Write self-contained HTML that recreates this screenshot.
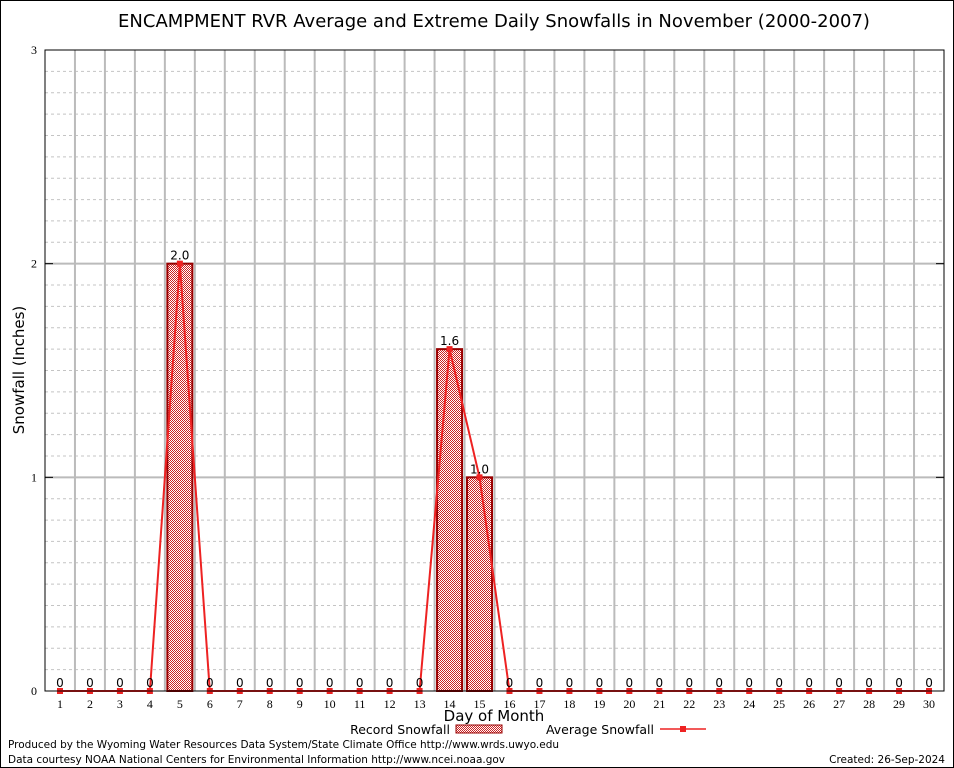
<!DOCTYPE html>
<html><head><meta charset="utf-8"><style>
body{margin:0;background:#fff;}
svg{display:block;font-family:"DejaVu Sans","Liberation Sans",sans-serif;}
</style></head><body>
<svg id="chart" width="954" height="768" viewBox="0 0 954 768" xmlns="http://www.w3.org/2000/svg">
<defs>
<pattern id="hatch" width="2" height="2" patternUnits="userSpaceOnUse">
<rect width="2" height="2" fill="#fff"/>
<rect x="0" y="0" width="1" height="1" fill="#c22"/>
<rect x="1" y="1" width="1" height="1" fill="#c22"/>
</pattern>
</defs>
<rect x="0.5" y="0.5" width="953" height="767" fill="#fff" stroke="#000"/>
<text x="494" y="27" font-size="18" text-anchor="middle">ENCAMPMENT RVR Average and Extreme Daily Snowfalls in November (2000-2007)</text>
<g id="grid"></g>
<g id="bars"></g>
<g id="line"></g>
<g id="labels"></g>
<rect x="45" y="50" width="899" height="641" fill="none" stroke="#000" stroke-width="1"/>
<g id="axes"></g>
<text x="24" y="370" font-size="15" text-anchor="middle" transform="rotate(-90 24 370)">Snowfall (Inches)</text>
<text x="494" y="721" font-size="15" text-anchor="middle">Day of Month</text>
<g>
<text x="450" y="734" font-size="12.5" text-anchor="end">Record Snowfall</text>
<rect x="456" y="725" width="46" height="8" fill="url(#hatch)" stroke="#900"/>
<text x="654" y="734" font-size="12.5" text-anchor="end">Average Snowfall</text>
<line x1="660" y1="729" x2="706" y2="729" stroke="#e22" stroke-width="1.5"/>
<rect x="680" y="726" width="6" height="6" fill="#e22"/>
</g>
<text x="8" y="748" font-size="10.5" textLength="551">Produced by the Wyoming Water Resources Data System/State Climate Office http://www.wrds.uwyo.edu</text>
<text x="8" y="763" font-size="10.5" textLength="497">Data courtesy NOAA National Centers for Environmental Information http://www.ncei.noaa.gov</text>
<text x="945" y="763" font-size="10.5" text-anchor="end">Created:  26-Sep-2024</text>
</svg>
<script>
const days = [1,2,3,4,5,6,7,8,9,10,11,12,13,14,15,16,17,18,19,20,21,22,23,24,25,26,27,28,29,30];
const recordValues = [0,0,0,0,2.0,0,0,0,0,0,0,0,0,1.6,1.0,0,0,0,0,0,0,0,0,0,0,0,0,0,0,0];
const averageValues = [0,0,0,0,2.0,0,0,0,0,0,0,0,0,1.6,1.0,0,0,0,0,0,0,0,0,0,0,0,0,0,0,0];
const yTicks = [0,1,2,3];

const NS = "http://www.w3.org/2000/svg";
const L=45,R=944,T=50,B=691,YMAX=3;
const step=(R-L)/days.length;
const xs=d=>L+(d-0.5)*step;
const ys=v=>B-(v/YMAX)*(B-T);
function mk(tag,attrs,parent,text){const e=document.createElementNS(NS,tag);for(const k in attrs)e.setAttribute(k,attrs[k]);if(text!==undefined)e.textContent=text;document.getElementById(parent).appendChild(e);return e;}

for(let i=1;i<YMAX*10;i++){if(i%10===0)continue;const y=ys(i/10);
const e=mk('line',{x1:L,x2:R,y1:y,y2:y,stroke:'#c4c4c4','stroke-dasharray':'3,3'},'grid');

}
for(let k=1;k<days.length;k++){const x=L+k*step;
const e=mk('line',{x1:x,x2:x,y1:T,y2:B,stroke:'#bbb','stroke-width':2},'grid');

}
yTicks.forEach(t=>{const y=ys(t);
if(t>0&&t<YMAX){const g=mk('line',{x1:L,x2:R,y1:y,y2:y,stroke:'#bbb','stroke-width':2},'grid');

}
const tk=mk('line',{x1:L,x2:L+8,y1:y,y2:y,stroke:'#000'},'axes');


const tk2=mk('line',{x1:R-8,x2:R,y1:y,y2:y,stroke:'#000'},'axes');


const lb=mk('text',{x:37,y:y+4,'font-size':12,'text-anchor':'end','font-family':'Liberation Serif, serif'},'axes',String(t));

});
days.forEach((d,i)=>{const x=xs(d);
const lb=mk('text',{x:x,y:708,'font-size':12,'text-anchor':'middle','font-family':'Liberation Serif, serif'},'axes',String(d));


const v=recordValues[i];
if(v>0){const y=ys(v);
const b=mk('rect',{x:x-12.5,y:y,width:25,height:B-y,fill:'url(#hatch)',stroke:'#900','stroke-width':2},'bars');

}
const t=mk('text',{x:x,y:ys(v)-4,'font-size':12,'text-anchor':'middle'},'labels',v>0?v.toFixed(1):'0');

});
const pts=days.map((d,i)=>xs(d)+','+ys(averageValues[i])).join(' ');
const pl=mk('polyline',{points:pts,fill:'none',stroke:'#e22','stroke-width':2},'line');


days.forEach((d,i)=>{const m=mk('rect',{x:xs(d)-3,y:ys(averageValues[i])-3,width:6,height:6,fill:'#e22'},'line');

});
</script>
</body></html>
